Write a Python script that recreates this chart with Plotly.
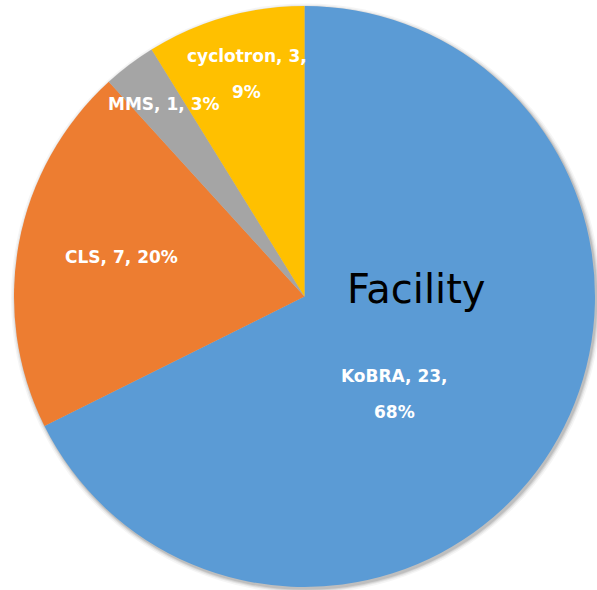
import math
import plotly.graph_objects as go

# ---- data ----
labels = ["KoBRA", "CLS", "MMS", "cyclotron"]
values = [23, 7, 1, 3]
percents = [68, 20, 3, 9]
colors = ["#5B9BD5", "#ED7D31", "#A5A5A5", "#FFC000"]
title_text = "Facility"

# ---- layout / style ----
W, H = 597, 590
CX, CY, R = 304.5, 296.5, 290.5          # pixel geometry of the pie
label_r_frac = [0.457, 0.645, 0.82, 0.79]  # radial position of labels
label_ang_off = [15.3, 1.6, 0.8, 1.3]      # angular tweak (deg) of labels
label_two_lines = [True, False, False, True]
LINE_GAP = 36
LABEL_FONT = dict(family="DejaVu Sans", size=17, color="white", weight="bold")

dom_x = [(CX - R) / W, (CX + R) / W]
dom_y = [1 - (CY + R) / H, 1 - (CY - R) / H]

fig = go.Figure(go.Pie(
    labels=labels, values=values, sort=False, direction="clockwise",
    rotation=0, marker=dict(colors=colors, line=dict(width=0)),
    textinfo="none", hoverinfo="label+value+percent", showlegend=False,
    domain=dict(x=dom_x, y=dom_y),
))

# soft shadow under the pie
shapes = []
for k, (dr, op) in enumerate([(4.5, 0.04), (3.0, 0.06), (1.8, 0.08), (0.8, 0.10)]):
    ox, oy = 1.5, 2.0
    shapes.append(dict(
        type="circle", xref="paper", yref="paper", layer="below",
        x0=(CX + ox - R - dr) / W, x1=(CX + ox + R + dr) / W,
        y0=1 - (CY + oy + R + dr) / H, y1=1 - (CY + oy - R - dr) / H,
        fillcolor=f"rgba(0,0,0,{op})", line=dict(width=0),
    ))

annotations = []
total = sum(values)
start = 0.0
for i, (lab, v, p) in enumerate(zip(labels, values, percents)):
    span = 360.0 * v / total
    mid = start + span / 2 + label_ang_off[i]
    start += span
    r = R * label_r_frac[i]
    px = CX + r * math.sin(math.radians(mid))
    py = CY - r * math.cos(math.radians(mid))
    if label_two_lines[i]:
        lines = [f"{lab}, {v},", f"{p}%"]
    else:
        lines = [f"{lab}, {v}, {p}%"]
    n = len(lines)
    for j, t in enumerate(lines):
        annotations.append(dict(
            text=t, xref="paper", yref="paper", x=px / W, y=1 - py / H,
            xanchor="center", yanchor="middle", showarrow=False,
            yshift=((n - 1) / 2 - j) * LINE_GAP, font=LABEL_FONT,
        ))

annotations.append(dict(
    text=title_text, xref="paper", yref="paper", x=416 / W, y=1 - 289 / H,
    xanchor="center", yanchor="middle", showarrow=False,
    font=dict(family="DejaVu Sans", size=40, color="black"),
))

fig.update_layout(
    width=W, height=H, margin=dict(l=0, r=0, t=0, b=0),
    paper_bgcolor="white", plot_bgcolor="white",
    shapes=shapes, annotations=annotations,
)

fig.write_html("out.html", config={"displayModeBar": False},
               post_script="document.body.style.margin='0px';")
